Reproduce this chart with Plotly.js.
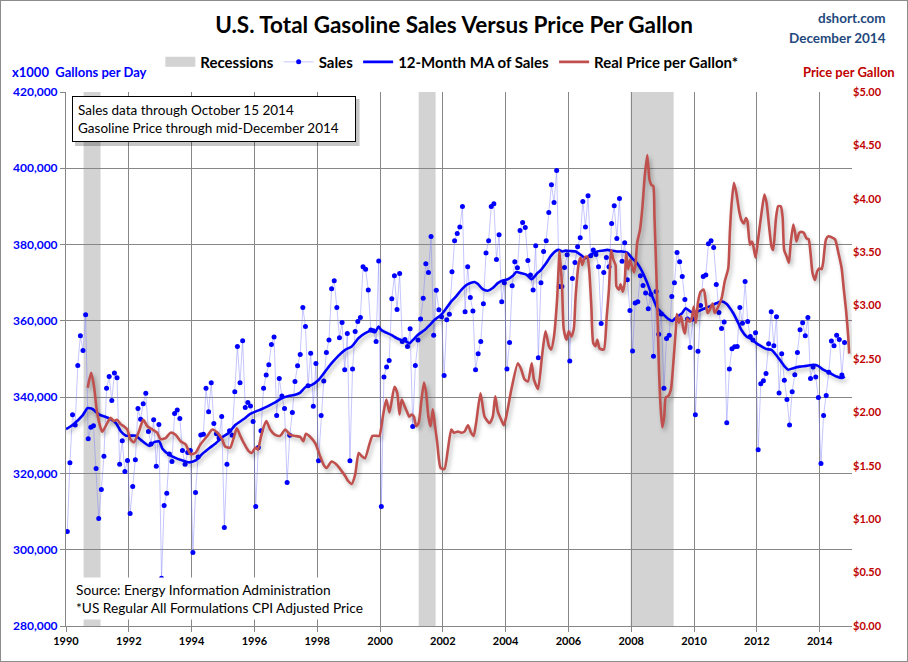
<!DOCTYPE html>
<html>
<head>
<meta charset="utf-8">
<script src="https://cdn.plot.ly/plotly-3.0.1.min.js"></script>
<style>
  html, body { margin: 0; padding: 0; background: #fff; }
  #chart { width: 906px; height: 660px; border: 1px solid #8c8c8c; }
  #chart .scatterlayer path.js-line[style*="stroke-width: 2.6px"] {
    filter: drop-shadow(2px 3px 2px rgba(0, 0, 0, 0.28));
  }
</style>
</head>
<body>
<div id="chart"></div>
<script>
// ---------------- DATA ----------------
// Monthly U.S. gasoline sales (x1000 gallons per day), Jan 1990 .. Oct 2014
const salesStartYear = 1990;
const salesValues = [
  304800, 322800, 335400, 332700, 348300, 356100, 352200, 361600, 329100, 332100, 332500, 321300,
  308200, 315800, 324500, 342300, 345400, 339100, 346300, 345100, 322400, 328600, 320500, 323400,
  309500, 316600, 323600, 337000, 334200, 338300, 341000, 331000, 327700, 334100, 321900, 332800,
  292500, 311600, 314800, 325100, 323100, 335700, 336600, 334400, 326000, 322400, 325500, 326000,
  299300, 315000, 324300, 330100, 330300, 342300, 336200, 343800, 333100, 330400, 329300, 334900,
  305800, 322400, 331200, 330000, 341400, 353300, 343800, 354800, 337300, 338600, 337700, 333600,
  311300, 326800, 331200, 342300, 345800, 348500, 353800, 355800, 335200, 344900, 340300, 337000,
  317600, 330000, 336000, 344100, 348200, 351200, 363500, 358500, 343000, 351500, 337600, 348800,
  323300, 335200, 344200, 351700, 355000, 368400, 370500, 363500, 355600, 359600, 347200, 356700,
  323300, 347400, 357200, 359800, 360900, 374200, 373500, 368100, 357600, 357400, 354600, 375700,
  311300, 345300, 347900, 349600, 365800, 371800, 363000, 372400, 354600, 355100, 353300, 357900,
  332300, 348300, 355000, 360500, 365900, 375000, 372700, 382100, 356200, 368000, 362900, 361100,
  345700, 360300, 361700, 372900, 381000, 382900, 384600, 390000, 362400, 374200, 366100, 362600,
  347200, 351400, 354600, 364500, 377800, 381000, 390000, 390700, 376100, 382600, 365000, 370000,
  347400, 354300, 369200, 375500, 373900, 383700, 385800, 384500, 375800, 372000, 368100, 379700,
  350300, 370000, 378200, 381000, 388400, 395700, 391000, 399400, 369000, 369000, 374000, 377300,
  349500, 371100, 375300, 379400, 381800, 391300, 384600, 392800, 377100, 378600, 377400, 374200,
  359300, 372700, 376600, 374200, 385500, 390200, 381600, 392100, 375600, 380500, 370800, 362700,
  352100, 364700, 365000, 371800, 369300, 367300, 363200, 367000, 350700, 367700, 356500, 361800,
  342300, 355400, 356200, 366400, 370000, 377900, 375500, 371600, 365600, 360500, 353000, 360500,
  335400, 352000, 364000, 371600, 372000, 380200, 381000, 379200, 369500, 362200, 358000, 359700,
  333300, 347400, 352700, 353200, 353300, 363500, 359400, 370300, 359800, 355900, 355000, 356900,
  326200, 343500, 344300, 346200, 354000, 362400, 353500, 361100, 341100, 351400, 344400, 339400,
  332700, 341400, 345900, 351700, 357700, 359500, 356100, 360900, 344900, 347900, 345300, 339900,
  322600, 335200, 340400, 346500, 354700, 353500, 356200, 355100, 345800, 354300
];

// 12-month moving average of sales (decimal year, value)
const maYears = [
  1990.00, 1990.21, 1990.53, 1990.68, 1990.84, 1991.06, 1991.27, 1991.43, 1991.59, 1991.75, 1991.91,
  1992.22, 1992.38, 1992.65, 1992.81, 1992.97, 1993.07, 1993.29, 1993.50, 1993.71, 1993.92,
  1994.13, 1994.35, 1994.56, 1994.77, 1994.98, 1995.18, 1995.39, 1995.65, 1995.87,
  1996.03, 1996.24, 1996.45, 1996.66, 1996.87, 1997.09, 1997.30, 1997.46, 1997.62, 1997.83,
  1998.04, 1998.25, 1998.46, 1998.68, 1998.89, 1999.10, 1999.32, 1999.53, 1999.74, 1999.85, 1999.95,
  2000.04, 2000.20, 2000.36, 2000.52, 2000.67, 2000.83, 2000.94, 2001.05, 2001.20, 2001.42, 2001.58,
  2001.74, 2001.95, 2002.11, 2002.27, 2002.43, 2002.59, 2002.75, 2002.90, 2003.01, 2003.11, 2003.27,
  2003.43, 2003.59, 2003.75, 2003.91, 2004.07, 2004.23, 2004.34, 2004.50, 2004.66, 2004.82, 2004.92,
  2005.01, 2005.11, 2005.27, 2005.43, 2005.59, 2005.69, 2005.80, 2005.91, 2006.07, 2006.23, 2006.39,
  2006.54, 2006.65, 2006.76, 2006.92, 2007.08, 2007.24, 2007.39, 2007.55, 2007.71, 2007.87,
  2008.03, 2008.19, 2008.35, 2008.51, 2008.67, 2008.83, 2008.99, 2009.15, 2009.31, 2009.46, 2009.62,
  2009.73, 2009.89, 2010.08, 2010.29, 2010.50, 2010.71, 2010.87, 2011.03, 2011.25, 2011.41, 2011.51,
  2011.67, 2011.83, 2011.99, 2012.15, 2012.31, 2012.47, 2012.57, 2012.73, 2012.89, 2013.00, 2013.16,
  2013.37, 2013.58, 2013.80, 2013.95, 2014.11, 2014.33, 2014.54, 2014.70, 2014.80
];
const maValues = [
  331600, 332700, 335200, 337100, 336900, 335400, 334800, 334200, 333200, 331000, 329900,
  329900, 328800, 327200, 328200, 328400, 326500, 324900, 324000, 323400, 322900,
  323400, 325200, 326600, 327900, 329500, 330600, 332700, 334200, 335600,
  336200, 336900, 337700, 338600, 339700, 340300, 340600, 341200, 342600, 343200,
  344500, 346700, 348900, 350900, 352400, 353300, 355500, 356800, 357400, 357000, 358500,
  357600, 356900, 356300, 355500, 355000, 354600, 354100, 355000, 356300, 357600, 358900,
  360300, 361600, 363300, 365100, 366500, 368100, 369400, 370000, 370200, 369700, 368300,
  367900, 368600, 369900, 370600, 370900, 371800, 372800, 372500, 372100, 370900, 371600,
  372500, 373200, 374900, 376900, 378300, 378600, 378200, 378400, 378300, 378200, 377300,
  376400, 376900, 377600, 378200, 378400, 378600, 378400, 378200, 378200, 377900,
  376400, 375100, 372900, 369900, 366400, 363300, 362000, 360700, 360000, 361100, 362000,
  363300, 362400, 362400, 363100, 363800, 364600, 365100, 364500, 362000, 359400, 357600,
  355900, 355200, 354100, 353300, 352600, 352400, 351500, 349800, 348000, 347200, 347600,
  348000, 348200, 348500, 348200, 347200, 346300, 345400, 345000, 345400
];

// Real (CPI adjusted) price per gallon (decimal year, $)
const priceYears = [
  1990.69, 1990.80, 1990.89, 1990.99, 1991.15, 1991.26, 1991.31, 1991.42, 1991.52, 1991.63, 1991.74,
  1991.84, 1991.95, 1992.05, 1992.16, 1992.32, 1992.46, 1992.59, 1992.75, 1992.90, 1993.01, 1993.17,
  1993.33, 1993.49, 1993.65, 1993.81, 1993.96, 1994.12, 1994.28, 1994.50, 1994.66, 1994.82, 1994.97,
  1995.07, 1995.23, 1995.33, 1995.44, 1995.55, 1995.65, 1995.81, 1995.92, 1996.03, 1996.11, 1996.20,
  1996.29, 1996.38, 1996.50, 1996.66, 1996.82, 1996.98, 1997.14, 1997.30, 1997.46, 1997.56, 1997.64,
  1997.78, 1997.94, 1998.08, 1998.22, 1998.30, 1998.46, 1998.62, 1998.78, 1998.90, 1998.98, 1999.10,
  1999.21, 1999.32, 1999.42, 1999.52, 1999.66, 1999.76, 1999.90, 1999.98, 2000.09, 2000.20, 2000.30,
  2000.46, 2000.55, 2000.62, 2000.69, 2000.78, 2000.87, 2000.93, 2001.01, 2001.08, 2001.15, 2001.23,
  2001.31, 2001.40, 2001.47, 2001.54, 2001.61, 2001.68, 2001.74, 2001.82, 2001.93, 2002.05, 2002.16,
  2002.27, 2002.35, 2002.48, 2002.59, 2002.69, 2002.80, 2002.90, 2002.98, 2003.06, 2003.20, 2003.33,
  2003.49, 2003.59, 2003.67, 2003.75, 2003.86, 2003.94, 2004.02, 2004.18, 2004.39, 2004.50, 2004.60,
  2004.71, 2004.83, 2004.90, 2005.03, 2005.16, 2005.27, 2005.38, 2005.45, 2005.54, 2005.64, 2005.72,
  2005.80, 2005.85, 2005.94, 2006.01, 2006.09, 2006.17, 2006.23, 2006.33, 2006.39, 2006.44, 2006.52,
  2006.60, 2006.66, 2006.73, 2006.79, 2006.86, 2006.92, 2006.99, 2007.06, 2007.13, 2007.22, 2007.29,
  2007.36, 2007.43, 2007.50, 2007.53, 2007.61, 2007.66, 2007.73, 2007.79, 2007.84, 2007.90, 2007.96,
  2008.01, 2008.09, 2008.14, 2008.19, 2008.28, 2008.35, 2008.43, 2008.51, 2008.58, 2008.64, 2008.70,
  2008.74, 2008.81, 2008.88, 2008.94, 2008.99, 2009.05, 2009.10, 2009.17, 2009.26, 2009.34, 2009.42,
  2009.45, 2009.52, 2009.59, 2009.66, 2009.71, 2009.78, 2009.86, 2009.92, 2009.99, 2010.06, 2010.13,
  2010.21, 2010.31, 2010.38, 2010.43, 2010.50, 2010.59, 2010.66, 2010.77, 2010.88, 2010.98, 2011.09,
  2011.14, 2011.19, 2011.27, 2011.35, 2011.44, 2011.51, 2011.59, 2011.65, 2011.70, 2011.78, 2011.84,
  2011.88, 2011.96, 2012.04, 2012.15, 2012.24, 2012.31, 2012.39, 2012.47, 2012.52, 2012.61, 2012.68,
  2012.76, 2012.82, 2012.87, 2012.95, 2013.02, 2013.08, 2013.16, 2013.22, 2013.26, 2013.35, 2013.43,
  2013.50, 2013.58, 2013.65, 2013.71, 2013.77, 2013.85, 2013.92, 2013.99, 2014.06, 2014.11, 2014.20,
  2014.28, 2014.38, 2014.49, 2014.60, 2014.70, 2014.77, 2014.84, 2014.91, 2014.94
];
const priceValues = [
  2.23, 2.37, 2.25, 2.00, 1.82, 1.87, 1.90, 1.95, 1.92, 1.93, 1.89,
  1.87, 1.84, 1.75, 1.72, 1.82, 1.93, 1.87, 1.84, 1.81, 1.75, 1.76,
  1.81, 1.79, 1.73, 1.70, 1.61, 1.62, 1.70, 1.78, 1.84, 1.81, 1.75,
  1.68, 1.67, 1.75, 1.85, 1.78, 1.72, 1.64, 1.62, 1.67, 1.65, 1.76,
  1.86, 1.92, 1.84, 1.79, 1.78, 1.84, 1.79, 1.78, 1.77, 1.73, 1.80,
  1.77, 1.71, 1.60, 1.50, 1.48, 1.54, 1.51, 1.45, 1.40, 1.36, 1.33,
  1.42, 1.62, 1.59, 1.57, 1.70, 1.78, 1.78, 1.78, 1.96, 2.12, 2.00,
  2.24, 2.18, 1.98, 2.12, 2.06, 2.00, 1.96, 1.98, 1.96, 1.87, 1.90,
  2.09, 2.28, 2.18, 1.96, 1.87, 2.03, 1.90, 1.72, 1.48, 1.47, 1.65,
  1.84, 1.81, 1.82, 1.81, 1.82, 1.88, 1.81, 1.78, 1.90, 2.18, 1.96,
  1.90, 1.96, 2.15, 2.01, 1.93, 1.88, 1.96, 2.21, 2.46, 2.40, 2.31,
  2.29, 2.46, 2.31, 2.22, 2.53, 2.76, 2.62, 2.59, 2.71, 3.06, 3.51,
  3.15, 2.78, 2.68, 2.76, 2.71, 2.78, 3.09, 3.40, 3.45, 3.38, 3.45,
  3.46, 3.34, 2.99, 2.65, 2.62, 2.68, 2.60, 2.59, 2.59, 2.90, 3.15,
  3.52, 3.43, 3.38, 3.18, 3.15, 3.20, 3.13, 3.21, 3.49, 3.34, 3.43,
  3.38, 3.31, 3.40, 3.59, 3.71, 3.90, 4.21, 4.41, 4.18, 4.13, 4.12,
  3.83, 3.21, 2.43, 2.03, 1.86, 1.96, 2.14, 2.15, 2.21, 2.46, 2.78,
  2.92, 2.84, 2.90, 2.78, 2.74, 2.88, 2.85, 2.87, 2.99, 2.84, 3.04,
  3.13, 3.15, 3.02, 2.93, 2.96, 3.02, 2.93, 2.99, 3.07, 3.23, 3.35,
  3.68, 3.93, 4.15, 4.05, 3.88, 3.80, 3.77, 3.82, 3.79, 3.57, 3.60,
  3.57, 3.45, 3.62, 3.87, 4.04, 3.96, 3.74, 3.55, 3.52, 3.82, 3.93,
  3.93, 3.83, 3.52, 3.46, 3.40, 3.59, 3.76, 3.68, 3.60, 3.68, 3.69,
  3.68, 3.63, 3.62, 3.49, 3.31, 3.24, 3.32, 3.35, 3.34, 3.40, 3.62,
  3.65, 3.64, 3.62, 3.49, 3.35, 3.15, 2.96, 2.71, 2.55
];

// Recessions (decimal year start / end)
const recessionStart = [1990.56, 2001.23, 2007.98];
const recessionEnd   = [1991.10, 2001.77, 2009.35];

// Axis ticks
const yearTicks = [1990, 1992, 1994, 1996, 1998, 2000, 2002, 2004, 2006, 2008, 2010, 2012, 2014];

// ---------------- CHART ----------------
const FONT = "Lato, 'Open Sans', sans-serif";
const salesX = salesValues.map((v, i) => salesStartYear + (i + 0.5) / 12);

const traces = [
  { x: [null], y: [null], type: 'scatter', mode: 'lines', name: 'Recessions',
    line: { color: '#d3d3d3', width: 11 }, hoverinfo: 'skip' },
  { x: salesX, y: salesValues, type: 'scatter', mode: 'lines+markers', name: 'Sales',
    line: { color: 'rgba(120,120,255,0.42)', width: 1 },
    marker: { color: '#0000ff', size: 5 } },
  { x: maYears, y: maValues, type: 'scatter', mode: 'lines', name: '12-Month MA of Sales',
    line: { color: '#0000ff', width: 2.6, shape: 'spline', smoothing: 0.5 } },
  { x: priceYears, y: priceValues, type: 'scatter', mode: 'lines', name: 'Real Price per Gallon*',
    yaxis: 'y2', line: { color: '#c0504d', width: 2.6, shape: 'spline', smoothing: 0.6 } }
];

const shapes = recessionStart.map((s, i) => ({
  type: 'rect', xref: 'x', yref: 'paper', x0: s, x1: recessionEnd[i], y0: 0, y1: 1,
  fillcolor: '#d3d3d3', line: { width: 0 }, layer: 'below'
}));
// soft shadow behind the note box
shapes.push({ type: 'rect', xref: 'paper', yref: 'paper', x0: 0.0115, x1: 0.3735, y0: 0.899, y1: 0.987,
  fillcolor: 'rgba(0,0,0,0.22)', line: { width: 0 }, layer: 'above' });

const gridCol = '#878787';
const layout = {
  width: 906, height: 660,
  margin: { l: 65, r: 55, t: 91, b: 35 },
  paper_bgcolor: '#ffffff', plot_bgcolor: '#ffffff',
  font: { family: FONT, color: '#000' },
  title: { text: '<b>U.S. Total Gasoline Sales Versus Price Per Gallon</b>',
    font: { family: FONT, size: 22.5, color: '#000' },
    xref: 'container', x: 0.5, xanchor: 'center', yref: 'container', y: 0.964, yanchor: 'middle' },
  showlegend: true,
  legend: { orientation: 'h', x: 0.12, xanchor: 'left', y: 1.056, yanchor: 'middle',
    font: { family: FONT, size: 15, color: '#000', weight: 'bold' },
    bgcolor: 'rgba(0,0,0,0)', itemwidth: 30 },
  xaxis: { range: [1990, 2015.03], tickvals: yearTicks, tickformat: 'd',
    showgrid: true, gridcolor: gridCol, gridwidth: 1,
    showline: true, linecolor: gridCol, linewidth: 1,
    ticks: 'outside', ticklen: 5, tickcolor: gridCol,
    tickfont: { family: FONT, size: 11, color: '#000', weight: 'bold' }, zeroline: false },
  yaxis: { range: [280000, 420000], dtick: 20000, tickformat: ',d',
    showgrid: true, gridcolor: gridCol, gridwidth: 1,
    showline: true, linecolor: gridCol, linewidth: 1, mirror: false,
    ticks: 'outside', ticklen: 5, tickcolor: gridCol,
    tickfont: { family: FONT, size: 12, color: '#0000ff', weight: 'bold' }, zeroline: false },
  yaxis2: { range: [0, 5], dtick: 0.5, tickformat: '.2f', tickprefix: '$',
    overlaying: 'y', side: 'right', showgrid: false, zeroline: false,
    showline: false, ticks: '', ticklabelstandoff: 0,
    tickfont: { family: FONT, size: 11, color: '#c00000', weight: 'bold' } },
  shapes: shapes,
  annotations: [
    { xref: 'paper', yref: 'paper', x: 0.0076, y: 0.9925, xanchor: 'left', yanchor: 'top',
      text: 'Sales data through October 15 2014<br>Gasoline Price through mid-December 2014',
      align: 'left', showarrow: false, bgcolor: '#ffffff', bordercolor: '#000000', borderwidth: 1,
      borderpad: 5, width: 272, height: 34, font: { family: FONT, size: 13.5, color: '#000' } },
    { xref: 'paper', yref: 'paper', x: 0.0076, y: 0.0112, xanchor: 'left', yanchor: 'bottom',
      text: 'Source: Energy Information Administration<br>*US Regular All Formulations CPI Adjusted Price',
      align: 'left', showarrow: false, bgcolor: '#ffffff', borderpad: 3,
      font: { family: FONT, size: 13.7, color: '#000' } },
    { xref: 'paper', yref: 'paper', x: -0.0712, y: 1.0375, xanchor: 'left', yanchor: 'middle',
      text: 'x1000\u00a0\u00a0Gallons per Day', showarrow: false,
      font: { family: FONT, size: 13, color: '#0000ff', weight: 'bold' } },
    { xref: 'paper', yref: 'paper', x: 1.0573, y: 1.0375, xanchor: 'right', yanchor: 'middle',
      text: 'Price per Gallon', showarrow: false,
      font: { family: FONT, size: 13, color: '#c00000', weight: 'bold' } },
    { xref: 'paper', yref: 'paper', x: 1.0458, y: 1.1386, xanchor: 'right', yanchor: 'middle',
      text: 'dshort.com', showarrow: false,
      font: { family: FONT, size: 13.5, color: '#1f497d', weight: 'bold' } },
    { xref: 'paper', yref: 'paper', x: 1.0458, y: 1.1011, xanchor: 'right', yanchor: 'middle',
      text: 'December 2014', showarrow: false,
      font: { family: FONT, size: 13.5, color: '#1f497d', weight: 'bold' } }
  ]
};

Plotly.newPlot('chart', traces, layout, { staticPlot: true, displayModeBar: false });
</script>
</body>
</html>
